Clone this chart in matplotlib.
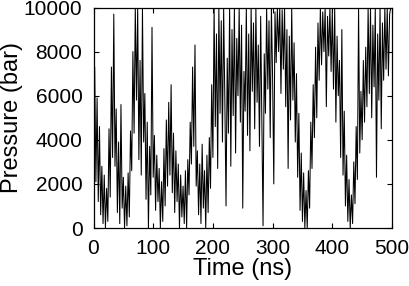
import numpy as np
import matplotlib
matplotlib.use("Agg")
import matplotlib.pyplot as plt

plt.rcParams['font.family'] = ['Liberation Sans', 'DejaVu Sans']

# Time step of 2 ns, pressures in bar
time_step_ns = 2.0
pressure = [
    4200, 7300, 2100, 5900, 1200, 4600, 600, 2800, 200, 2400,
    0, 1800, 300, 4500, 1400, 7300, 3200, 9700, 2800, 5400,
    700, 3900, 200, 5600, 900, 2300, 0, 1900, 100, 2500,
    500, 4400, 2600, 8000, 4300, 10000, 5800, 10000, 3100, 7600,
    2400, 10000, 3900, 6100, 1300, 4800, 0, 3700, 1500, 9100,
    2300, 4200, 800, 3300, 1200, 2700, 0, 2100, 300, 3600,
    1000, 4900, 1900, 5700, 2400, 6500, 1600, 4300, 700, 3500,
    1200, 2900, 0, 2400, 500, 1900, 200, 2600, 0, 3100,
    1500, 4800, 2900, 7300, 3700, 8300, 1900, 3500, 600, 2900,
    200, 3800, 900, 2600, 0, 3300, 700, 4100, 1800, 6500,
    3200, 10000, 4600, 8800, 2700, 10000, 5200, 9400, 3900, 10000,
    5800, 1000, 7700, 4300, 10000, 2800, 9000, 5100, 10000, 3400,
    8600, 6000, 10000, 4800, 9200, 900, 7100, 5300, 10000, 4200,
    8800, 3500, 10000, 6200, 9300, 4500, 10000, 5700, 8300, 3700,
    9600, 4700, 100, 7900, 5200, 10000, 6300, 9400, 4100, 10000,
    6800, 2000, 9800, 7500, 10000, 8000, 10000, 6100, 9900, 7200,
    10000, 5500, 9000, 2700, 8700, 4900, 10000, 5800, 8400, 3900,
    7000, 2300, 5200, 800, 3400, 300, 2500, 0, 1700, 0,
    2600, 900, 4800, 2700, 6500, 4100, 8200, 5000, 9300, 6700,
    10000, 7400, 9800, 8000, 10000, 5500, 9600, 7800, 10000, 7100,
    9900, 6300, 10000, 4800, 8700, 6000, 7600, 3200, 9000, 2400,
    5300, 1000, 3300, 300, 2200, 0, 1500, 200, 3000, 1100,
    4600, 2200, 10000, 3400, 6200, 4000, 7600, 4800, 8200, 5500,
    10000, 6100, 10000, 5000, 9200, 6400, 10000, 2300, 8800, 5800,
    10000, 4500, 9300, 6700, 10000, 7200, 10000, 6900, 9700, 10000,
]
time = np.arange(len(pressure)) * time_step_ns

x_ticks = [0, 100, 200, 300, 400, 500]
y_ticks = [0, 2000, 4000, 6000, 8000, 10000]

fig = plt.figure(figsize=(4.09, 2.86), dpi=100)
ax = fig.add_axes([93.5 / 409, 1 - 228 / 286, (392 - 93.5) / 409, (228 - 7.5) / 286])
ax.plot(time, pressure, color='black', linewidth=0.75)
ax.set_xlim(0, 500)
ax.set_ylim(0, 10000)
ax.set_xticks(x_ticks)
ax.set_yticks(y_ticks)
ax.tick_params(direction='in', top=True, right=True, length=3.5, width=0.8,
               labelsize=15)
ax.tick_params(axis='x', pad=8)
ax.tick_params(axis='y', pad=8)
ax.set_xlabel('Time (ns)', fontsize=17)
ax.set_ylabel('Pressure (bar)', fontsize=17)
ax.xaxis.set_label_coords(0.5, -0.136)
ax.yaxis.set_label_coords(-0.236, 0.5)
for s in ax.spines.values():
    s.set_linewidth(0.9)

fig.savefig('out.png', dpi=100)
